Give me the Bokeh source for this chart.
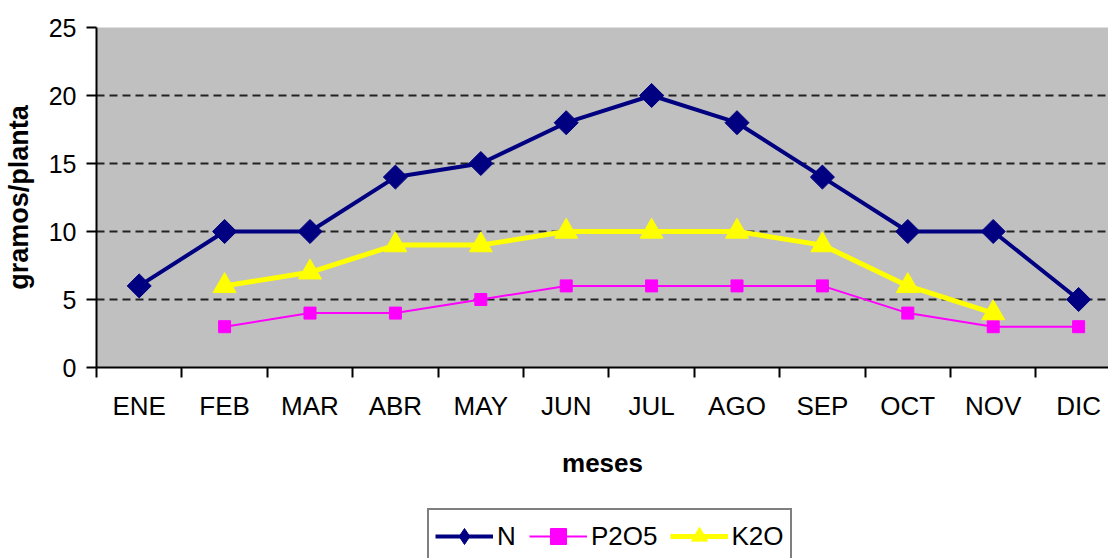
import math
from bokeh.plotting import figure
from bokeh.layouts import column
from bokeh.models import Range1d, FixedTicker, Legend, LegendItem
from bokeh.embed import file_html
from bokeh.resources import INLINE

meses = ["ENE", "FEB", "MAR", "ABR", "MAY", "JUN", "JUL", "AGO", "SEP", "OCT", "NOV", "DIC"]
n_vals = [6, 10, 10, 14, 15, 18, 20, 18, 14, 10, 10, 5]
p2o5_vals = [None, 3, 4, 4, 5, 6, 6, 6, 6, 4, 3, 3]
k2o_vals = [None, 6, 7, 9, 9, 10, 10, 10, 9, 6, 4, None]
series_names = ["N", "P2O5", "K2O"]
y_ticks = [0, 5, 10, 15, 20, 25]

N_COLOR, P_COLOR, K_COLOR = "#000080", "#FF00FF", "#FFFF00"


def xy(vals):
    xs = [i + 1 for i, v in enumerate(vals) if v is not None]
    ys = [v for v in vals if v is not None]
    return xs, ys


FONT = "Liberation Sans"

p = figure(width=1108, height=505, output_backend="svg", toolbar_location=None,
           x_range=Range1d(0.5, 12.35), y_range=Range1d(0, 25),
           min_border_left=88, min_border_right=0, min_border_top=27, min_border_bottom=138)
p.background_fill_color = "#C0C0C0"
p.border_fill_color = "white"
p.outline_line_color = None

# axes
xa = p.xaxis[0]
xa.ticker = FixedTicker(ticks=list(range(1, 13)), minor_ticks=[i + 0.5 for i in range(0, 13)])
xa.major_label_overrides = {i + 1: m for i, m in enumerate(meses)}
xa.major_tick_out = 0
xa.major_tick_in = 0
xa.minor_tick_out = 10
xa.minor_tick_in = 0
xa.minor_tick_line_color = "black"
xa.minor_tick_line_width = 2
xa.axis_line_color = "black"
xa.axis_line_width = 2
xa.major_label_text_font = FONT
xa.major_label_text_font_size = "26px"
xa.major_label_text_color = "black"
xa.major_label_standoff = 13
xa.axis_label = "meses"
xa.axis_label_text_font = FONT
xa.axis_label_text_font_size = "26px"
xa.axis_label_text_font_style = "bold"
xa.axis_label_text_color = "black"
xa.axis_label_standoff = 24

ya = p.yaxis[0]
ya.ticker = FixedTicker(ticks=y_ticks)
ya.major_tick_out = 10
ya.major_tick_in = 0
ya.minor_tick_out = 0
ya.minor_tick_in = 0
ya.major_tick_line_color = "black"
ya.major_tick_line_width = 2
ya.axis_line_color = "black"
ya.axis_line_width = 2
ya.major_label_text_font = FONT
ya.major_label_text_font_size = "25px"
ya.major_label_text_color = "black"
ya.major_label_standoff = 10
ya.axis_label = "gramos/planta"
ya.axis_label_text_font = FONT
ya.axis_label_text_font_size = "27px"
ya.axis_label_text_font_style = "bold"
ya.axis_label_text_color = "black"
ya.axis_label_standoff = 12

p.xgrid.visible = False
p.ygrid[0].ticker = FixedTicker(ticks=[t for t in y_ticks if 0 < t < 25])
p.ygrid[0].grid_line_color = "#222222"
p.ygrid[0].grid_line_width = 2
p.ygrid[0].grid_line_dash = "8 5"

# series
nx, ny = xy(n_vals)
px, py = xy(p2o5_vals)
kx, ky = xy(k2o_vals)

p.line(nx, ny, line_color=N_COLOR, line_width=4)
p.scatter(nx, ny, marker="square", size=17, angle=math.pi / 4, fill_color=N_COLOR, line_color=N_COLOR)
p.line(px, py, line_color=P_COLOR, line_width=2)
p.scatter(px, py, marker="square", size=12, fill_color=P_COLOR, line_color=P_COLOR)
p.line(kx, ky, line_color=K_COLOR, line_width=5)
p.scatter(kx, ky, marker="triangle", size=23, fill_color=K_COLOR, line_color=K_COLOR)

# legend strip below the chart (proxy glyphs drawn off-range, only shown in the legend)
q = figure(width=1108, height=53, output_backend="svg", toolbar_location=None,
           x_range=Range1d(0, 1), y_range=Range1d(0, 1),
           x_axis_location=None, y_axis_location=None, min_border=0)
q.outline_line_color = None
q.background_fill_color = "white"
q.border_fill_color = "white"
q.xgrid.visible = False
q.ygrid.visible = False

styles = [
    (N_COLOR, 4, "diamond"),
    (P_COLOR, 2, "square"),
    (K_COLOR, 5, "triangle"),
]
items = []
for name, (col, lw, mk) in zip(series_names, styles):
    rl = q.line([-5, -4], [-5, -4], line_color=col, line_width=lw)
    rm = q.scatter([-5], [-5], marker=mk, size=16, fill_color=col, line_color=col)
    items.append(LegendItem(label=name, renderers=[rl, rm]))

legend = Legend(items=items, orientation="horizontal", location=(331, -6))
legend.label_text_font = FONT
legend.label_text_font_size = "26px"
legend.label_text_color = "black"
legend.label_height = 40
legend.glyph_height = 40
legend.glyph_width = 58
legend.label_standoff = 4
legend.spacing = 12
legend.padding = 6
legend.margin = 0
legend.border_line_color = "black"
legend.border_line_width = 2
legend.background_fill_color = "white"
legend.background_fill_alpha = 1
q.add_layout(legend, "center")

layout = column(p, q, spacing=0)
open("out.html", "w").write(file_html(layout, INLINE))
